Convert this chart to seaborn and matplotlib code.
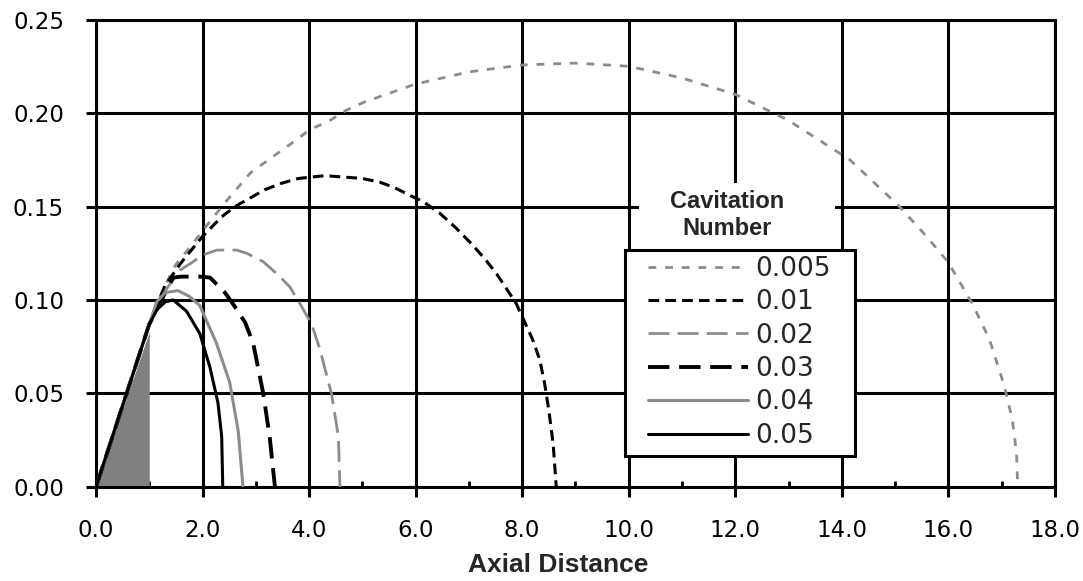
import numpy as np
import pandas as pd
import matplotlib
matplotlib.use("Agg")
import matplotlib.pyplot as plt
import seaborn as sns
from matplotlib.patches import Rectangle

# cavity profiles (axial distance, radius)
x_005 = [0, 1.0, 1.25, 1.5, 1.76, 2.0, 2.45, 2.9, 3.36, 3.73, 4.01, 4.39, 4.7, 5.05, 6.0, 7.0, 8.0, 9.0,
         10.0, 11.0, 12.0, 13.0, 14.15, 14.71, 15.08, 15.59, 16.0, 16.45, 16.77, 17.05, 17.2, 17.28, 17.3]
r_005 = [0, 0.087, 0.105, 0.119, 0.128, 0.137, 0.153, 0.168, 0.1775, 0.185, 0.191, 0.196, 0.2015, 0.206,
         0.2155, 0.222, 0.2257, 0.2267, 0.225, 0.2187, 0.21, 0.196, 0.175, 0.16, 0.15, 0.134, 0.12, 0.098,
         0.079, 0.054, 0.036, 0.018, 0.0]

x_01 = [0, 1.0, 1.3, 1.6, 2.0, 2.36, 2.61, 2.89, 3.17, 3.48, 3.8, 4.3, 5.0, 5.33, 5.61, 5.89, 6.14, 6.45,
        6.74, 7.05, 7.3, 7.52, 7.73, 7.89, 8.05, 8.2, 8.33, 8.42, 8.5, 8.58, 8.64]
r_01 = [0, 0.087, 0.108, 0.12, 0.134, 0.1445, 0.15, 0.1545, 0.159, 0.1624, 0.165, 0.1665, 0.165, 0.163,
        0.16, 0.156, 0.1526, 0.1465, 0.139, 0.13, 0.122, 0.114, 0.105, 0.098, 0.088, 0.0786, 0.068, 0.0556,
        0.041, 0.0235, 0.0]

x_02 = [0, 1.0, 1.3, 1.58, 1.8, 2.0, 2.27, 2.64, 2.83, 3.14, 3.42, 3.64, 3.83, 4.05, 4.2, 4.42, 4.55, 4.58]
r_02 = [0, 0.087, 0.105, 0.116, 0.12, 0.124, 0.1267, 0.1267, 0.125, 0.1205, 0.1134, 0.107, 0.098, 0.087,
        0.074, 0.05, 0.027, 0.0]

x_03 = [0, 1.0, 1.3, 1.45, 1.6, 1.95, 2.14, 2.42, 2.57, 2.8, 2.95, 3.14, 3.26, 3.36]
r_03 = [0, 0.087, 0.104, 0.112, 0.1125, 0.1125, 0.112, 0.104, 0.098, 0.088, 0.077, 0.05, 0.027, 0.0]

x_04 = [0, 1.0, 1.14, 1.3, 1.54, 1.75, 1.95, 2.26, 2.51, 2.67, 2.76]
r_04 = [0, 0.087, 0.099, 0.104, 0.105, 0.102, 0.097, 0.077, 0.056, 0.03, 0.0]

x_05 = [0, 1.0, 1.15, 1.3, 1.45, 1.7, 1.95, 2.14, 2.29, 2.36, 2.38]
r_05 = [0, 0.087, 0.095, 0.099, 0.1, 0.094, 0.082, 0.064, 0.045, 0.027, 0.0]

labels = ["0.005", "0.01", "0.02", "0.03", "0.04", "0.05"]
xs = [x_005, x_01, x_02, x_03, x_04, x_05]
rs = [r_005, r_01, r_02, r_03, r_04, r_05]

# cone (shaded)
cone_x = [0, 1.0]
cone_r = [0, 0.083]

gray = "#8c8c8c"
styles = [
    dict(color=gray, lw=2.0, linestyle=(0, (2.8, 3.2))),
    dict(color="black", lw=2.2, linestyle=(0, (3.5, 2.0))),
    dict(color=gray, lw=2.0, linestyle=(0, (7.5, 3.0))),
    dict(color="black", lw=2.8, linestyle=(0, (5.5, 2.5))),
    dict(color=gray, lw=2.2, linestyle="-"),
    dict(color="black", lw=2.2, linestyle="-"),
]

sns.set_style("white")
plt.rcParams["font.family"] = ["DejaVu Sans"]

fig, ax = plt.subplots(figsize=(10.83, 5.81), dpi=100)
fig.subplots_adjust(left=0.0886, right=0.9741, top=0.9664, bottom=0.1618)

ax.fill_between(cone_x, 0, cone_r, color="#808080", lw=0, zorder=2)

handles = []
for lab, x, r, st in zip(labels, xs, rs, styles):
    df = pd.DataFrame({"x": x, "r": r})
    sns.lineplot(data=df, x="x", y="r", ax=ax, sort=False, estimator=None,
                 label=lab, zorder=3, **st)
    handles.append(ax.lines[-1])

ax.set_xlim(0, 18)
ax.set_ylim(0, 0.25)
ax.set_xticks(np.arange(0, 18.1, 2))
ax.set_xticks(np.arange(1, 18, 2), minor=True)
ax.set_yticks(np.arange(0, 0.251, 0.05))
ax.set_xticklabels([f"{v:.1f}" for v in np.arange(0, 18.1, 2)])
ax.set_yticklabels([f"{v:.2f}" for v in np.arange(0, 0.251, 0.05)])
ax.grid(True, which="major", color="black", lw=2.2, zorder=1)
ax.set_axisbelow(True)
ax.tick_params(axis="both", which="major", direction="out", length=7, width=2.2,
               labelsize=16.5, pad=16, color="black", labelcolor="black")
ax.tick_params(axis="y", which="minor", left=False)
ax.tick_params(axis="x", which="minor", direction="in", length=4, width=2, color="black", bottom=True)
ax.tick_params(axis="x", which="major", bottom=True)
ax.tick_params(axis="y", which="major", left=True)
for s in ax.spines.values():
    s.set_visible(True)
    s.set_color("black")
    s.set_linewidth(2.2)

ax.set_xlabel("Axial Distance", fontsize=19, fontweight="bold", family="Liberation Sans")
ax.xaxis.set_label_coords(0.482, -0.167)
ax.xaxis.label.set_va("center")
ax.set_ylabel("")

# white patch behind the legend title
ax.add_patch(Rectangle((10.2, 0.1267), 3.67, 0.036, facecolor="white", edgecolor="none", zorder=4))
ax.text(11.85, 0.1455, "Cavitation\nNumber", ha="center", va="center", fontsize=17,
        fontweight="bold", family="Liberation Sans", zorder=5, linespacing=1.25)

# legend box drawn as its own frame
ax.add_patch(Rectangle((0.5516, 0.0663), 0.2398, 0.4406, transform=ax.transAxes,
                       facecolor="white", edgecolor="black", lw=2.2, zorder=5))
leg = ax.legend(handles, labels, loc="upper left", bbox_to_anchor=(0.5756, 0.4945),
                borderaxespad=0, fontsize=19, handlelength=3.8, handletextpad=0.25,
                labelspacing=0.28, frameon=False, borderpad=0)
leg.set_zorder(6)

fig.savefig("out.png", dpi=100)
